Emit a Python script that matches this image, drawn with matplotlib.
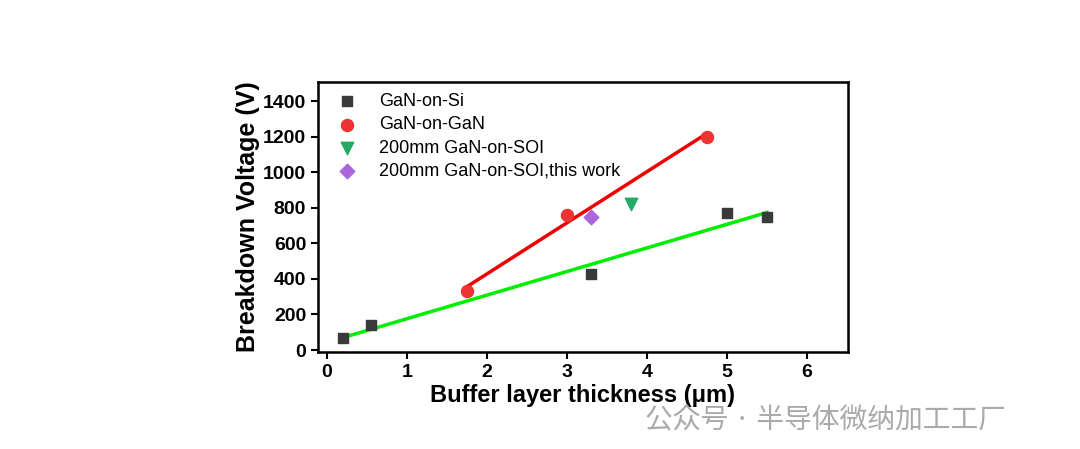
import numpy as np
import matplotlib.pyplot as plt

plt.rcParams["font.family"] = ["Liberation Sans", "Noto Sans CJK JP"]

si_x = [0.2, 0.55, 3.3, 5.0, 5.5]
si_y = [65, 140, 425, 770, 748]
gan_x = [1.75, 3.0, 4.75]
gan_y = [330, 760, 1200]
soi_x = [3.8]
soi_y = [820]
work_x = [3.3]
work_y = [750]

fig = plt.figure(figsize=(10.8, 4.49), dpi=100)
ax = fig.add_axes([0.2944, 0.216, 0.4907, 0.601])

# fit lines
p = np.polyfit(si_x, si_y, 1)
xs = np.array([0.2, 5.5])
ax.plot(xs, np.polyval(p, xs), color="#00ee00", lw=2.5, zorder=1)
p = np.polyfit(gan_x, gan_y, 1)
xs = np.array([1.75, 4.75])
ax.plot(xs, np.polyval(p, xs), color="#ee0000", lw=2.5, zorder=1)

ax.scatter(si_x, si_y, marker="s", s=60, color="#3a3a3a", label="GaN-on-Si", zorder=3)
ax.scatter(gan_x, gan_y, marker="o", s=75, color="#ee3333", label="GaN-on-GaN", zorder=3)
ax.scatter(soi_x, soi_y, marker="v", s=80, color="#22aa66", label="200mm GaN-on-SOI", zorder=3)
ax.scatter(work_x, work_y, marker="D", s=55, color="#aa66dd", label="200mm GaN-on-SOI,this work", zorder=3)

ax.set_xlim(-0.11, 6.51)
ax.set_ylim(-11, 1506)
ax.set_xticks(range(0, 7))
ax.set_yticks(range(0, 1401, 200))
ax.tick_params(labelsize=14, width=1.5, length=5)
for lab in ax.get_xticklabels() + ax.get_yticklabels():
    lab.set_fontweight("bold")
for s in ax.spines.values():
    s.set_linewidth(1.8)
ax.set_xlabel("Buffer layer thickness (μm)", fontsize=17, fontweight="bold", labelpad=2)
ax.set_ylabel("Breakdown Voltage (V)", fontsize=18, fontweight="bold", labelpad=2)
ax.legend(loc="upper left", frameon=False, fontsize=13, handletextpad=0.8,
          borderaxespad=0.2, labelspacing=0.35)

fig.text(0.597, 0.045, "公众号 · 半导体微纳加工工厂", fontsize=20, color="#aaaaaa",
         fontfamily="Noto Sans CJK JP")
fig.savefig("out.png")
